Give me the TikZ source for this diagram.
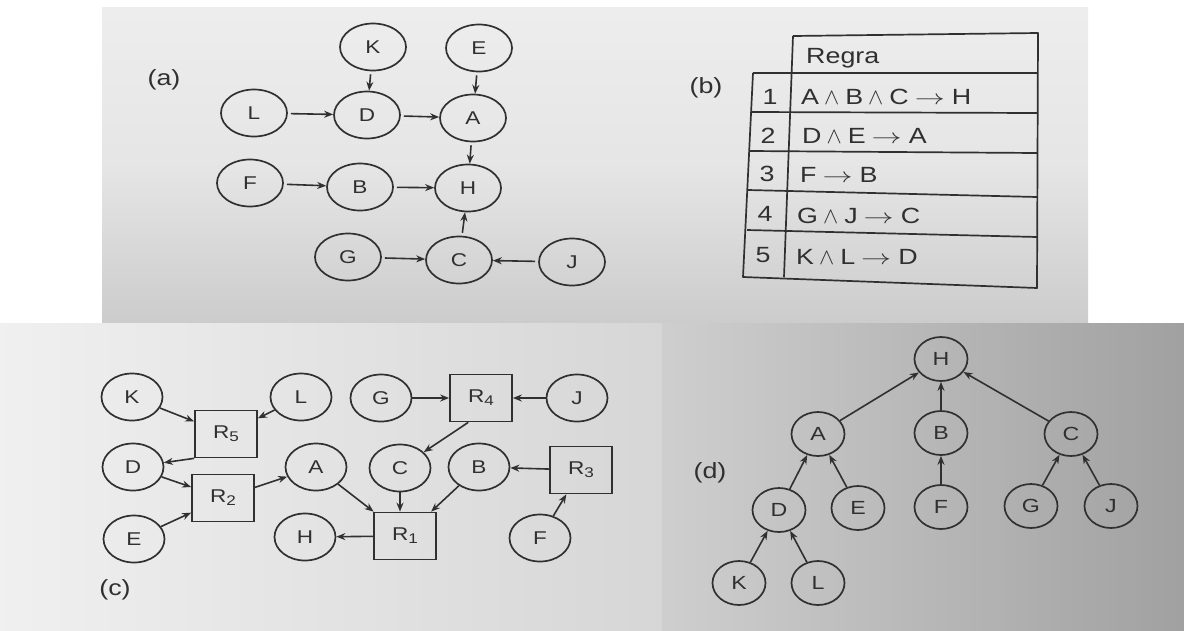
\documentclass[tikz,border=0pt]{standalone}
\usepackage{fontspec}
\setmainfont{Liberation Sans}[FakeStretch=1.22]
\usetikzlibrary{shapes.geometric,arrows.meta,calc}

\definecolor{ink}{HTML}{303030}

\newcommand{\rsub}[1]{R\raisebox{-0.3ex}{\fontsize{14}{14}\selectfont #1}}
\newcommand{\andop}{\hspace{5pt}\scalebox{1.1}{$\wedge$}\hspace{6pt}}
\newcommand{\impl}{\hspace{6pt}\scalebox{1.45}[1]{$\rightarrow$}\hspace{7pt}}

\begin{document}
\begin{tikzpicture}[x=1pt,y=-1pt,
  fact/.style={ellipse,draw=ink,line width=1.7pt,inner sep=0pt,text=ink},
  afact/.style={fact,minimum width=66pt,minimum height=47pt,font=\fontsize{18.5}{18.5}\selectfont},
  cfact/.style={fact,minimum width=61pt,minimum height=47pt,font=\fontsize{18.5}{18.5}\selectfont},
  dfact/.style={fact,minimum width=53pt,minimum height=44pt,font=\fontsize{19}{19}\selectfont},
  rulebox/.style={rectangle,draw=ink,line width=1.7pt,inner sep=0pt,text=ink,
    minimum width=62pt,minimum height=47pt,font=\fontsize{18.5}{18.5}\selectfont},
  conn/.style={draw=ink,line width=1.6pt,-{Stealth[length=9pt,width=7pt]}},
  tline/.style={draw=ink,line width=1.7pt,line join=round},
  cell/.style={inner sep=0pt,text=ink,font=\fontsize{22}{22}\selectfont},
  tag/.style={inner sep=0pt,text=ink,font=\fontsize{22}{22}\selectfont}
]
\useasboundingbox (0,0) rectangle (1184,630);
\fill[white] (0,0) rectangle (1184,630);

% paper backgrounds of the three parts
\shade[top color=black!7,bottom color=black!20,middle color=black!10]
  (102,7) rectangle (1088,323);
\shade[left color=black!6,right color=black!16] (0,323) rectangle (662,630);
\shade[left color=black!19,right color=black!37] (662,323) rectangle (1184,630);

% ---------------- (a) fact network ----------------
\node[tag] (la) at (164,80) {(a)};
\node[afact] (aK) at (373,47)  {K};
\node[afact] (aE) at (479,48)  {E};
\node[afact] (aL) at (254,113) {L};
\node[afact] (aD) at (367,115) {D};
\node[afact] (aA) at (473,118) {A};
\node[afact] (aF) at (250,183) {F};
\node[afact] (aB) at (360,187) {B};
\node[afact] (aH) at (468,188) {H};
\node[afact] (aG) at (348,257) {G};
\node[afact] (aC) at (459,260) {C};
\node[afact] (aJ) at (572,262) {J};

\begin{scope}[shorten <=3pt]
\draw[conn] (aK) -- (aD);
\draw[conn] (aE) -- (aA);
\draw[conn] (aL) -- (aD);
\draw[conn] (aD) -- (aA);
\draw[conn] (aA) -- (aH);
\draw[conn] (aF) -- (aB);
\draw[conn] (aB) -- (aH);
\draw[conn] (aG) -- (aC);
\draw[conn] (aJ) -- (aC);
\draw[conn] (aC) -- (aH);
\end{scope}

% ---------------- (b) rule table ----------------
\node[tag] (lb) at (706,88) {(b)};
\draw[tline] (793,36) -- (1038,33) -- (1037,288) -- (743,277) -- (753,73);
\draw[tline] (793,36) -- (784,277);
\draw[tline] (753,73)  -- (1038,73);
\draw[tline] (752,112) -- (1037,113);
\draw[tline] (750,151) -- (1037,153);
\draw[tline] (748,190) -- (1037,197);
\draw[tline] (747,230) -- (1037,237);

\node[cell,anchor=west] (head) at (806,58) {Regra};
\node[cell] (n1) at (770,97)  {1};
\node[cell] (n2) at (768,136) {2};
\node[cell] (n3) at (767,174) {3};
\node[cell] (n4) at (765,214) {4};
\node[cell] (n5) at (763,255) {5};
\node[cell,anchor=west] (r1) at (801,97)  {A\andop B\andop C\impl H};
\node[cell,anchor=west] (r2) at (802,136) {D\andop E\impl A};
\node[cell,anchor=west] (r3) at (800,175) {F\impl B};
\node[cell,anchor=west] (r4) at (797,216) {G\andop J\impl C};
\node[cell,anchor=west] (r5) at (796,257) {K\andop L\impl D};

% ---------------- (c) rule network ----------------
\node[tag] (lc) at (115,590) {(c)};
\node[cfact] (cK) at (132,397) {K};
\node[cfact] (cL) at (301,397) {L};
\node[rulebox] (cR5) at (226,434) {\rsub{5}};
\node[cfact] (cD) at (133,467) {D};
\node[cfact] (cA) at (316,467) {A};
\node[rulebox] (cR2) at (223,498) {\rsub{2}};
\node[cfact] (cE) at (134,539) {E};
\node[cfact] (cH) at (305,537) {H};
\node[cfact] (cG) at (381,398) {G};
\node[rulebox] (cR4) at (481,398) {\rsub{4}};
\node[cfact] (cJ) at (577,398) {J};
\node[cfact] (cC) at (400,468) {C};
\node[cfact] (cB) at (479,467) {B};
\node[rulebox] (cR3) at (581,470) {\rsub{3}};
\node[rulebox] (cR1) at (405,536) {\rsub{1}};
\node[cfact] (cF) at (540,538) {F};

\draw[conn] (cK) -- (cR5);
\draw[conn] (cL) -- (cR5);
\draw[conn] (cR5.south west) -- (cD);
\draw[conn] (cD) -- (cR2);
\draw[conn] (cE) -- (cR2);
\draw[conn] (cR2) -- (cA);
\draw[conn] (cG) -- (cR4);
\draw[conn] (cJ) -- (cR4);
\draw[conn] ($(cR4.south west)!0.3!(cR4.south east)$) -- (cC);
\draw[conn] (cA) -- (cR1);
\draw[conn] (cC.south) -- (cC.south |- cR1.north);
\draw[conn] (cB) -- (cR1);
\draw[conn] (cR3) -- (cB);
\draw[conn] (cF) -- (cR3);
\draw[conn] (cR1) -- (cH);

% ---------------- (d) derivation tree ----------------
\node[tag] (ld) at (710,473) {(d)};
\node[dfact] (dH) at (941,359) {H};
\node[dfact] (dA) at (818,434) {A};
\node[dfact] (dB) at (941,433) {B};
\node[dfact] (dC) at (1071,434) {C};
\node[dfact] (dD) at (779,510) {D};
\node[dfact] (dE) at (858,508) {E};
\node[dfact] (dF) at (941,507) {F};
\node[dfact] (dG) at (1031,506) {G};
\node[dfact] (dJ) at (1111,506) {J};
\node[dfact] (dK) at (739,583) {K};
\node[dfact] (dL) at (818,583) {L};

\draw[conn] (dA) -- (dH);
\draw[conn] (dB) -- (dH);
\draw[conn] (dC) -- (dH);
\draw[conn] (dD) -- (dA);
\draw[conn] (dE) -- (dA);
\draw[conn] (dF) -- (dB);
\draw[conn] (dG) -- (dC);
\draw[conn] (dJ) -- (dC);
\draw[conn] (dK) -- (dD);
\draw[conn] (dL) -- (dD);
\end{tikzpicture}
\end{document}
